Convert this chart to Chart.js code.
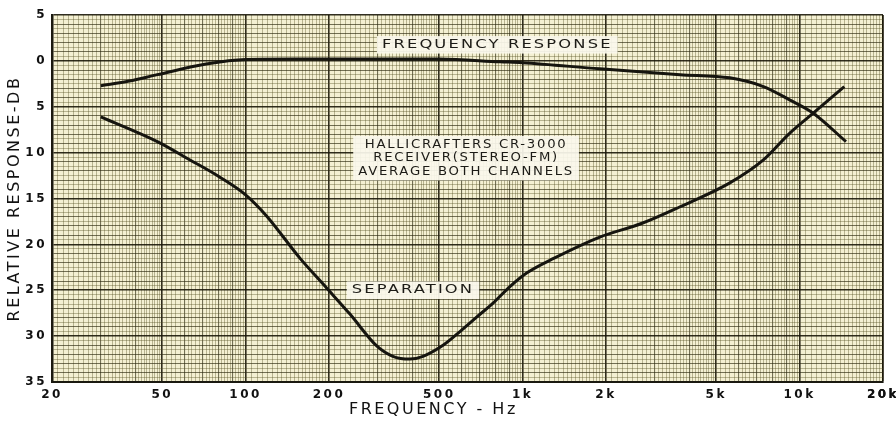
<!DOCTYPE html>
<html>
<head>
<meta charset="utf-8">
<script src="https://cdn.jsdelivr.net/npm/chart.js@4.4.0/dist/chart.umd.min.js"></script>
<style>
  html, body { margin: 0; padding: 0; background: #fff; }
  #wrap { width: 896px; height: 421px; }
</style>
</head>
<body>
<div id="wrap"><canvas id="chart" width="896" height="421"></canvas></div>
<script>
// frequency response, Hz vs relative dB (positive values are down)
const responseHz = [30, 38, 48, 72, 100, 150, 200, 500, 830, 1000, 1900, 3700, 5600, 7400, 9200, 11200, 14700];
const responseDb = [2.7, 2.2, 1.5, 0.35, -0.15, -0.2, -0.2, -0.2, 0.1, 0.2, 0.87, 1.5, 1.85, 2.8, 4.25, 5.7, 8.8];

// stereo separation
const separationHz = [30, 48, 63, 80, 100, 119, 157, 194, 238, 298, 340, 392, 437, 516, 594, 684, 782, 900, 1037, 1300, 1900, 2700, 3700, 5600, 7400, 9200, 11200, 14500];
const separationDb = [6.1, 8.8, 10.8, 12.6, 14.6, 16.9, 21.5, 24.6, 27.6, 31.1, 32.2, 32.5, 32.2, 31.0, 29.5, 27.9, 26.4, 24.6, 23.1, 21.5, 19.2, 17.7, 15.9, 13.3, 10.8, 7.9, 5.7, 2.8];

const xTickLabels = [20, 50, 100, 200, 500, 1000, 2000, 5000, 10000, 20000];
const yTickLabels = [-5, 0, 5, 10, 15, 20, 25, 30, 35];

const notes = [
  { lines: ["FREQUENCY RESPONSE"], hz: 810, db: -1.75, stretch: 1.42 },
  { lines: ["HALLICRAFTERS CR-3000", "RECEIVER(STEREO-FM)", "AVERAGE BOTH CHANNELS"], hz: 625, db: 10.6, stretch: 1.15 },
  { lines: ["SEPARATION"], hz: 402, db: 25.0, stretch: 1.42 }
];

// graph paper rulings
function xRulings() {
  const out = [];
  for (let d = 10; d <= 10000; d *= 10) {
    for (let t = 100; t < 1000; t += (t < 200 ? 5 : t < 500 ? 10 : 20)) {
      const v = Math.round(t * d) / 100;
      if (v >= 20 && v <= 20000) out.push(v);
    }
  }
  out.push(20000);
  return out;
}
function yRulings() {
  const out = [];
  for (let i = -10; i <= 70; i++) out.push(i / 2);
  return out;
}

function xLevel(v) {
  if (xTickLabels.some(l => Math.abs(l - v) < 1e-6)) return 2;
  const m = v / Math.pow(10, Math.floor(Math.log10(v) + 1e-9));
  return Math.abs(m - Math.round(m)) < 1e-6 ? 1 : 0;
}
function yLevel(v) {
  if (yTickLabels.includes(v)) return 2;
  return Number.isInteger(v) ? 1 : 0;
}
const gridColors = ['rgba(85,80,35,0.38)', 'rgba(45,42,15,0.65)', 'rgba(25,22,8,0.9)'];
const gridWidths = [1, 1.1, 1.6];

const toPoints = (xs, ys) => xs.map((x, i) => ({ x: x, y: ys[i] }));

const paperPlugin = {
  id: 'paper',
  beforeDraw(chart) {
    const { ctx, chartArea: a } = chart;
    ctx.save();
    ctx.fillStyle = '#f4f0d2';
    ctx.fillRect(a.left, a.top, a.right - a.left, a.bottom - a.top);
    ctx.restore();
    ctx.letterSpacing = '2.5px';
  },
  afterDatasetsDraw(chart) {
    const ctx = chart.ctx;
    const xs = chart.scales.x, ys = chart.scales.y;
    ctx.save();
    ctx.letterSpacing = '1.5px';
    ctx.font = '11.5px "DejaVu Sans"';
    ctx.textBaseline = 'middle';
    ctx.textAlign = 'center';
    notes.forEach(n => {
      const cx = xs.getPixelForValue(n.hz);
      const cy = ys.getPixelForValue(n.db);
      const lh = 13.5;
      const widths = n.lines.map(l => ctx.measureText(l).width * n.stretch);
      const w = Math.max(...widths) + 10;
      const h = n.lines.length * lh + 4;
      ctx.fillStyle = 'rgba(250,248,236,0.93)';
      ctx.fillRect(cx - w / 2, cy - h / 2, w, h);
      ctx.fillStyle = '#1c1b16';
      n.lines.forEach((l, i) => {
        const y = cy + (i - (n.lines.length - 1) / 2) * lh;
        ctx.save();
        ctx.translate(cx, y);
        ctx.scale(n.stretch, 1);
        ctx.fillText(l, 0, 0);
        ctx.restore();
      });
    });
    ctx.restore();
  }
};

const lineStyle = {
  borderColor: '#16150f',
  borderWidth: 3,
  pointRadius: 0,
  fill: false,
  cubicInterpolationMode: 'monotone'
};

new Chart(document.getElementById('chart'), {
  type: 'line',
  data: {
    datasets: [
      Object.assign({ label: 'Frequency response', data: toPoints(responseHz, responseDb) }, lineStyle),
      Object.assign({ label: 'Separation', data: toPoints(separationHz, separationDb) }, lineStyle)
    ]
  },
  options: {
    responsive: false,
    animation: false,
    layout: { padding: { top: 15, right: 13, bottom: 0, left: 0 } },
    plugins: { legend: { display: false }, tooltip: { enabled: false } },
    scales: {
      x: {
        type: 'logarithmic',
        min: 20,
        max: 20000,
        afterBuildTicks: s => { s.ticks = xRulings().map(v => ({ value: v })); },
        afterFit: s => { s.height = 39; s.paddingLeft = 0; s.paddingRight = 0; },
        grid: {
          drawTicks: false,
          color: c => gridColors[xLevel(c.tick.value)],
          lineWidth: c => gridWidths[xLevel(c.tick.value)]
        },
        border: { color: '#1a1910', width: 2 },
        ticks: {
          autoSkip: false,
          maxRotation: 0,
          padding: 6,
          color: '#111',
          font: { family: 'DejaVu Sans', size: 12, weight: 'bold' },
          callback: v => xTickLabels.includes(v) ? (v >= 1000 ? (v / 1000) + 'k' : String(v)) : ''
        },
        title: {
          display: true,
          // trailing spaces pull the centred title left, as on the original sheet
          text: 'FREQUENCY - Hz\u00a0\u00a0\u00a0\u00a0\u00a0\u00a0\u00a0\u00a0\u00a0',
          color: '#111',
          font: { family: 'DejaVu Sans', size: 16 },
          padding: { top: 0, bottom: 2 }
        }
      },
      y: {
        type: 'linear',
        reverse: true,
        min: -5,
        max: 35,
        afterBuildTicks: s => { s.ticks = yRulings().map(v => ({ value: v })); },
        afterFit: s => { s.width = 52; },
        grid: {
          drawTicks: false,
          color: c => gridColors[yLevel(c.tick.value)],
          lineWidth: c => gridWidths[yLevel(c.tick.value)]
        },
        border: { color: '#1a1910', width: 2.5 },
        ticks: {
          autoSkip: false,
          padding: 5,
          color: '#111',
          font: { family: 'DejaVu Sans', size: 12, weight: 'bold' },
          callback: v => yTickLabels.includes(v) ? String(Math.abs(v)) : ''
        },
        title: {
          display: true,
          text: 'RELATIVE RESPONSE-DB',
          color: '#111',
          font: { family: 'DejaVu Sans', size: 16 },
          padding: { top: 5, bottom: 0 }
        }
      }
    }
  },
  plugins: [paperPlugin]
});
</script>
</body>
</html>
